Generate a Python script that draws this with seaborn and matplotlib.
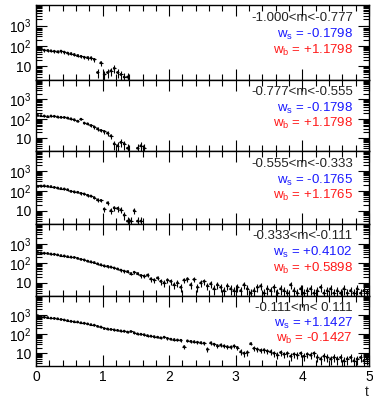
import numpy as np
import pandas as pd
import matplotlib
matplotlib.use("Agg")
import matplotlib.pyplot as plt
from matplotlib.ticker import FixedLocator, FixedFormatter, LogLocator, MultipleLocator, NullFormatter
import seaborn as sns

sns.set_style("ticks")
plt.rcParams['font.family'] = ['Liberation Sans', 'DejaVu Sans']
plt.rcParams['mathtext.fontset'] = 'custom'
plt.rcParams['mathtext.rm'] = 'Liberation Sans'
plt.rcParams['mathtext.it'] = 'Liberation Sans'

bin_width = 0.05

ranges = ["-1.000<m<-0.777", "-0.777<m<-0.555", "-0.555<m<-0.333",
          "-0.333<m<-0.111", "-0.111<m< 0.111"]
ws_labels = ["-0.1798", "-0.1798", "-0.1765", "+0.4102", "+1.1427"]
wb_labels = ["+1.1798", "+1.1798", "+1.1765", "+0.5898", "-0.1427"]

counts_1 = [72, 68, 62, 60, 58, 55, 52, 56, 50, 45,
            42, 38, 34, 31, 28, 27, 26, 22, 5, 15,
            4, 5, 6, 8, 5, 4, 3, 3]
counts_2 = [150, 145, 140, 130, 140, 135, 125, 120, 118, 110,
            100, 90, 75, 95, 60, 55, 45, 38, 30, 25,
            22, 18, 13, 5, 4, 6, 5, 3, 0, 0,
            3, 4, 3]
counts_3 = [170, 175, 180, 170, 165, 150, 140, 130, 125, 115,
            95, 90, 85, 75, 70, 60, 55, 45, 35, 33,
            12, 25, 10, 14, 13, 11, 6, 3, 3, 10,
            3, 3]
counts_4 = [360, 340, 330, 320, 300, 290, 270, 250, 240, 220,
            210, 200, 180, 160, 150, 130, 120, 110, 95, 85,
            75, 70, 65, 58, 52, 45, 40, 38, 30, 35,
            30, 24, 22, 25, 16, 14, 18, 12, 10, 14,
            12, 8, 10, 6, 14, 16, 8, 15, 6, 10,
            12, 7, 9, 5, 8, 6, 4, 7, 5, 4,
            6, 4, 8, 5, 3, 4, 6, 7, 3, 5,
            4, 6, 3, 5, 4, 3, 8, 4, 3, 5,
            3, 4, 5, 3, 4, 6, 3, 4, 5, 3,
            4, 3, 5, 3, 4, 3, 5, 3, 4, 3]
counts_5 = [950, 800, 780, 750, 700, 680, 650, 600, 560, 520,
            480, 450, 440, 400, 380, 350, 320, 300, 260, 240,
            200, 190, 180, 170, 160, 150, 145, 130, 140, 120,
            105, 100, 95, 85, 80, 75, 70, 65, 70, 60,
            55, 52, 50, 48, 22, 45, 42, 40, 38, 36,
            34, 16, 35, 30, 25, 27, 24, 22, 21, 24,
            20, 12, 10, 11, 32, 18, 16, 14, 15, 13,
            12, 10, 8, 11, 9, 10, 7, 9, 8, 10,
            7, 9, 8, 10, 6, 5, 7, 6, 5, 6,
            5, 6, 4, 5, 6, 4, 5, 6, 4, 5]
all_counts = [counts_1, counts_2, counts_3, counts_4, counts_5]

fig = plt.figure(figsize=(3.73, 3.98), dpi=100)
axes = fig.subplots(5, 1, sharex=True,
                    gridspec_kw=dict(hspace=0, height_ratios=[75, 71, 73, 72, 70]))
fig.subplots_adjust(left=0.0965, right=0.989, top=0.987, bottom=0.080)

for i, ax in enumerate(axes):
    v = np.array(all_counts[i], dtype=float)
    t = np.arange(len(v)) * bin_width + bin_width / 2
    df = pd.DataFrame({"t": t, "n": v})
    df = df[df.n > 0]
    err = np.sqrt(df.n.values) * 1.1
    lo = np.minimum(err, df.n.values - 1.0)
    ax.errorbar(df.t, df.n, xerr=bin_width / 2, yerr=[lo, err], fmt='none',
                ecolor='black', elinewidth=0.8, capsize=0)
    sns.scatterplot(data=df, x="t", y="n", ax=ax, color='black', s=4,
                    marker='o', edgecolor='none', legend=False)
    ax.set_yscale('log')
    ax.set_ylim(2.1, 1e4)
    ax.set_xlim(0, 5)
    ax.yaxis.set_major_locator(FixedLocator([10, 100, 1000]))
    ax.yaxis.set_major_formatter(FixedFormatter(["10", r"$10^2$", r"$10^3$"]))
    ax.yaxis.set_minor_locator(LogLocator(base=10, subs=np.arange(2, 10), numticks=20))
    ax.yaxis.set_minor_formatter(NullFormatter())
    ax.xaxis.set_major_locator(MultipleLocator(1))
    ax.xaxis.set_minor_locator(MultipleLocator(0.2))
    ax.tick_params(axis='both', which='both', direction='in', top=True, right=True,
                   colors='black', width=0.8)
    ax.tick_params(axis='both', which='major', length=8, labelsize=10, pad=3)
    ax.tick_params(axis='y', which='minor', length=4)
    ax.tick_params(axis='x', which='minor', length=4)
    ax.set_xlabel("")
    ax.set_ylabel("")
    for s in ax.spines.values():
        s.set_linewidth(1.0)
        s.set_color('black')
    ax.text(0.952, 0.83, ranges[i], transform=ax.transAxes, ha='right', va='center',
            fontsize=9.5, color='#222222')
    ax.text(0.952, 0.605, r"w$_\mathrm{s}$ = " + ws_labels[i], transform=ax.transAxes,
            ha='right', va='center', fontsize=9.5, color='#1a1aff')
    ax.text(0.952, 0.39, r"w$_\mathrm{b}$ = " + wb_labels[i], transform=ax.transAxes,
            ha='right', va='center', fontsize=9.5, color='#ff1a1a')
    if i < 4:
        ax.tick_params(axis='x', labelbottom=False)

axes[-1].set_xticks([0, 1, 2, 3, 4, 5])
axes[-1].set_xticklabels(["0", "1", "2", "3", "4", "5"])
fig.text(0.988, 0.006, "t", ha='right', va='baseline', fontsize=10)

fig.savefig("out.png", dpi=100)
